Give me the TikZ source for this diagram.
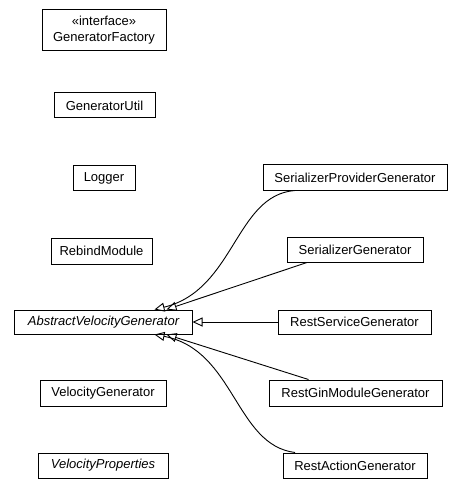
\documentclass[tikz,border=0pt]{standalone}
\usepackage{fontspec}
\setmainfont{Liberation Sans}
\usepackage{tikz}
\usetikzlibrary{arrows.meta}
\tikzstyle{classbox}=[draw,line width=1bp,inner sep=0pt,font=\fontsize{13bp}{16bp}\selectfont,align=center]
\tikzstyle{extends}=[line width=0.9bp,-{Triangle[open,length=10bp,width=9bp]}]

\begin{document}
\begin{tikzpicture}[x=1bp,y=-1bp]
\useasboundingbox (0,0) rectangle (464,495);
\node[classbox,minimum width=124bp,minimum height=41bp] (gf) at (104,30.5) {«interface»\\GeneratorFactory};
\node[classbox,minimum width=101bp,minimum height=25bp] (gu) at (104.5,105.5) {GeneratorUtil};
\node[classbox,minimum width=62bp,minimum height=25bp] (log) at (104,178) {Logger};
\node[classbox,minimum width=101bp,minimum height=26bp] (rm) at (101.5,251) {RebindModule};
\node[classbox,minimum width=177bp,minimum height=24bp] (avg) at (103.5,322) {\itshape AbstractVelocityGenerator};
\node[classbox,minimum width=126bp,minimum height=26bp] (vg) at (103,393) {VelocityGenerator};
\node[classbox,minimum width=130bp,minimum height=25bp] (vp) at (103,465.5) {\itshape VelocityProperties};

\node[classbox,minimum width=184bp,minimum height=25bp] (spg) at (355,177.5) {SerializerProviderGenerator};
\node[classbox,minimum width=136bp,minimum height=25bp] (sg) at (355,249.5) {SerializerGenerator};
\node[classbox,minimum width=153bp,minimum height=24bp] (rsg) at (354.5,322) {RestServiceGenerator};
\node[classbox,minimum width=173bp,minimum height=26bp] (rgmg) at (355.5,393) {RestGinModuleGenerator};
\node[classbox,minimum width=144bp,minimum height=25bp] (rag) at (355,465.5) {RestActionGenerator};

\draw[extends] ([xshift=-60bp]spg.south) .. controls (235,195) and (235,290) .. ([xshift=51bp]avg.north);
\draw[extends] ([xshift=-48bp]sg.south) -- ([xshift=63bp]avg.north);
\draw[extends] (rsg) -- (avg);
\draw[extends] ([xshift=-47bp]rgmg.north) -- ([xshift=63bp]avg.south);
\draw[extends] ([xshift=-60bp]rag.north) .. controls (235,445) and (235,350) .. ([xshift=51bp]avg.south);
\end{tikzpicture}
\end{document}
